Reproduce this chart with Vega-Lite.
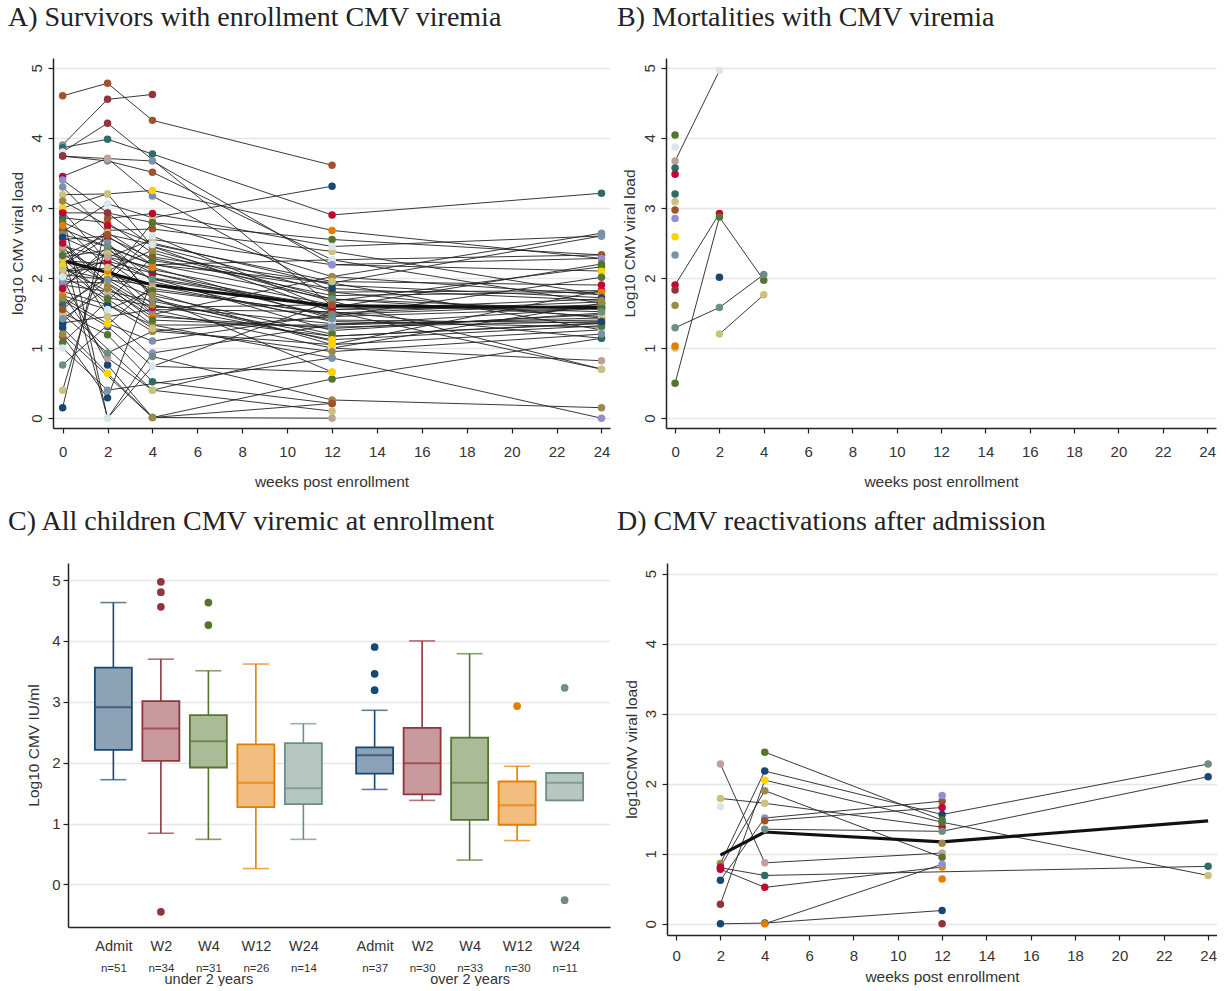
{
"$schema": "https://vega.github.io/schema/vega-lite/v6.json",
"padding": {"left": 0, "top": 4, "right": 0, "bottom": 0},
"background": "white",
"config": {
 "view": {"stroke": null},
 "font": "Liberation Sans",
 "title": {"font": "Liberation Serif", "fontSize": 28, "fontWeight": "normal", "color": "#222222", "anchor": "start", "frame": "group"},
 "axis": {"labelFont": "Liberation Sans", "titleFont": "Liberation Sans", "labelFontSize": 15, "titleFontSize": 15.5, "titleFontWeight": "normal", "labelColor": "#333333", "titleColor": "#333333", "domainColor": "#222222", "domainWidth": 1.5, "tickColor": "#222222", "tickWidth": 1.2, "tickSize": 5, "gridColor": "#e6e6e6", "gridWidth": 1.5},
 "axisX": {"grid": false},
 "axisY": {"grid": true}
},
"datasets": {
 "lines": [
  {"p":"A","id":"a1","w":0,"v":4.60,"g":9},{"p":"A","id":"a1","w":2,"v":4.78,"g":9},{"p":"A","id":"a1","w":4,"v":4.25,"g":9},{"p":"A","id":"a1","w":12,"v":3.61,"g":9},
  {"p":"A","id":"a2","w":0,"v":3.90,"g":10},{"p":"A","id":"a2","w":2,"v":4.55,"g":2},{"p":"A","id":"a2","w":4,"v":4.62,"g":2},
  {"p":"A","id":"a3","w":0,"v":3.86,"g":11},{"p":"A","id":"a3","w":2,"v":3.98,"g":11},{"p":"A","id":"a3","w":4,"v":3.77,"g":11},{"p":"A","id":"a3","w":12,"v":2.90,"g":6},{"p":"A","id":"a3","w":24,"v":3.21,"g":11},
  {"p":"A","id":"a4","w":0,"v":3.80,"g":15},{"p":"A","id":"a4","w":2,"v":4.21,"g":2},{"p":"A","id":"a4","w":12,"v":1.60,"g":4},{"p":"A","id":"a4","w":24,"v":1.58,"g":4},
  {"p":"A","id":"a5","w":0,"v":3.74,"g":2},{"p":"A","id":"a5","w":2,"v":3.67,"g":10},{"p":"A","id":"a5","w":4,"v":3.51,"g":9},{"p":"A","id":"a5","w":12,"v":2.26,"g":15},{"p":"A","id":"a5","w":24,"v":1.64,"g":1},
  {"p":"A","id":"a6","w":0,"v":3.45,"g":6},{"p":"A","id":"a6","w":2,"v":3.71,"g":13},{"p":"A","id":"a6","w":4,"v":3.17,"g":10},{"p":"A","id":"a6","w":12,"v":1.80,"g":9},{"p":"A","id":"a6","w":24,"v":1.43,"g":2},
  {"p":"A","id":"a7","w":0,"v":3.40,"g":7},{"p":"A","id":"a7","w":2,"v":2.93,"g":2},{"p":"A","id":"a7","w":4,"v":2.45,"g":5},{"p":"A","id":"a7","w":12,"v":1.52,"g":3},{"p":"A","id":"a7","w":24,"v":0.70,"g":8},
  {"p":"A","id":"a8","w":0,"v":3.19,"g":8},{"p":"A","id":"a8","w":2,"v":3.20,"g":8},{"p":"A","id":"a8","w":4,"v":3.25,"g":14},{"p":"A","id":"a8","w":12,"v":2.68,"g":4},{"p":"A","id":"a8","w":24,"v":2.28,"g":7},
  {"p":"A","id":"a9","w":0,"v":2.95,"g":6},{"p":"A","id":"a9","w":2,"v":2.24,"g":6},{"p":"A","id":"a9","w":4,"v":1.79,"g":8},{"p":"A","id":"a9","w":12,"v":1.05,"g":14},{"p":"A","id":"a9","w":24,"v":1.82,"g":6},
  {"p":"A","id":"a10","w":0,"v":2.93,"g":6},{"p":"A","id":"a10","w":2,"v":0.00,"g":15},{"p":"A","id":"a10","w":4,"v":0.93,"g":7},{"p":"A","id":"a10","w":12,"v":1.33,"g":7},{"p":"A","id":"a10","w":24,"v":1.57,"g":4},
  {"p":"A","id":"a11","w":0,"v":2.86,"g":11},{"p":"A","id":"a11","w":2,"v":2.79,"g":4},{"p":"A","id":"a11","w":4,"v":2.36,"g":4},{"p":"A","id":"a11","w":12,"v":1.67,"g":4},{"p":"A","id":"a11","w":24,"v":2.16,"g":3},
  {"p":"A","id":"a12","w":0,"v":2.66,"g":10},{"p":"A","id":"a12","w":2,"v":3.06,"g":15},{"p":"A","id":"a12","w":4,"v":2.86,"g":8},{"p":"A","id":"a12","w":12,"v":3.31,"g":1},
  {"p":"A","id":"a13","w":0,"v":2.55,"g":9},{"p":"A","id":"a13","w":2,"v":2.60,"g":15},{"p":"A","id":"a13","w":4,"v":2.19,"g":2},{"p":"A","id":"a13","w":12,"v":1.93,"g":12},{"p":"A","id":"a13","w":24,"v":2.60,"g":10},
  {"p":"A","id":"a14","w":0,"v":2.52,"g":8},{"p":"A","id":"a14","w":2,"v":1.93,"g":8},{"p":"A","id":"a14","w":4,"v":1.55,"g":10},{"p":"A","id":"a14","w":12,"v":1.00,"g":15},{"p":"A","id":"a14","w":24,"v":0.82,"g":13},
  {"p":"A","id":"a15","w":0,"v":2.48,"g":15},{"p":"A","id":"a15","w":2,"v":1.45,"g":8},{"p":"A","id":"a15","w":4,"v":0.88,"g":5},{"p":"A","id":"a15","w":12,"v":0.26,"g":12},{"p":"A","id":"a15","w":24,"v":0.15,"g":12},
  {"p":"A","id":"a16","w":0,"v":2.30,"g":4},{"p":"A","id":"a16","w":2,"v":2.40,"g":12},{"p":"A","id":"a16","w":4,"v":2.07,"g":6},{"p":"A","id":"a16","w":12,"v":1.55,"g":3},{"p":"A","id":"a16","w":24,"v":1.60,"g":1},
  {"p":"A","id":"a17","w":0,"v":2.19,"g":1},{"p":"A","id":"a17","w":2,"v":2.68,"g":3},{"p":"A","id":"a17","w":4,"v":2.70,"g":9},{"p":"A","id":"a17","w":12,"v":2.38,"g":8},{"p":"A","id":"a17","w":24,"v":1.76,"g":8},
  {"p":"A","id":"a18","w":0,"v":2.14,"g":12},{"p":"A","id":"a18","w":2,"v":1.81,"g":8},{"p":"A","id":"a18","w":4,"v":1.67,"g":1},{"p":"A","id":"a18","w":12,"v":1.17,"g":13},{"p":"A","id":"a18","w":24,"v":1.36,"g":1},
  {"p":"A","id":"a19","w":0,"v":2.10,"g":12},{"p":"A","id":"a19","w":2,"v":2.14,"g":12},{"p":"A","id":"a19","w":4,"v":1.48,"g":10},{"p":"A","id":"a19","w":12,"v":2.02,"g":12},{"p":"A","id":"a19","w":24,"v":2.64,"g":10},
  {"p":"A","id":"a20","w":0,"v":2.00,"g":12},{"p":"A","id":"a20","w":2,"v":0.76,"g":1},{"p":"A","id":"a20","w":4,"v":0.01,"g":12},{"p":"A","id":"a20","w":12,"v":0.56,"g":3},{"p":"A","id":"a20","w":24,"v":1.14,"g":11},
  {"p":"A","id":"a21","w":0,"v":1.88,"g":9},{"p":"A","id":"a21","w":2,"v":2.29,"g":14},{"p":"A","id":"a21","w":4,"v":2.55,"g":8},{"p":"A","id":"a21","w":12,"v":2.19,"g":7},{"p":"A","id":"a21","w":24,"v":2.10,"g":14},
  {"p":"A","id":"a22","w":0,"v":1.81,"g":13},{"p":"A","id":"a22","w":2,"v":1.62,"g":1},{"p":"A","id":"a22","w":4,"v":1.33,"g":12},{"p":"A","id":"a22","w":12,"v":0.86,"g":10},{"p":"A","id":"a22","w":24,"v":0.00,"g":7},
  {"p":"A","id":"a23","w":0,"v":1.77,"g":15},{"p":"A","id":"a23","w":2,"v":0.86,"g":13},{"p":"A","id":"a23","w":4,"v":0.40,"g":8},{"p":"A","id":"a23","w":12,"v":0.10,"g":8},
  {"p":"A","id":"a24","w":0,"v":1.68,"g":5},{"p":"A","id":"a24","w":2,"v":1.31,"g":1},{"p":"A","id":"a24","w":4,"v":0.74,"g":15},{"p":"A","id":"a24","w":12,"v":0.66,"g":14},
  {"p":"A","id":"a25","w":0,"v":1.50,"g":12},{"p":"A","id":"a25","w":2,"v":1.19,"g":3},{"p":"A","id":"a25","w":4,"v":0.52,"g":11},{"p":"A","id":"a25","w":12,"v":0.21,"g":9},
  {"p":"A","id":"a26","w":0,"v":1.48,"g":8},{"p":"A","id":"a26","w":2,"v":0.93,"g":5},{"p":"A","id":"a26","w":4,"v":1.24,"g":12},{"p":"A","id":"a26","w":12,"v":1.45,"g":3},{"p":"A","id":"a26","w":24,"v":2.01,"g":3},
  {"p":"A","id":"a27","w":0,"v":1.36,"g":1},{"p":"A","id":"a27","w":2,"v":2.00,"g":12},{"p":"A","id":"a27","w":4,"v":2.79,"g":3},{"p":"A","id":"a27","w":12,"v":2.55,"g":3},{"p":"A","id":"a27","w":24,"v":2.33,"g":9},
  {"p":"A","id":"a28","w":0,"v":1.29,"g":1},{"p":"A","id":"a28","w":2,"v":0.64,"g":14},{"p":"A","id":"a28","w":4,"v":0.01,"g":12},{"p":"A","id":"a28","w":12,"v":0.00,"g":13},
  {"p":"A","id":"a29","w":0,"v":1.17,"g":9},{"p":"A","id":"a29","w":2,"v":0.29,"g":1},{"p":"A","id":"a29","w":4,"v":2.00,"g":12},{"p":"A","id":"a29","w":12,"v":1.25,"g":10},{"p":"A","id":"a29","w":24,"v":1.50,"g":15},
  {"p":"A","id":"a30","w":0,"v":1.08,"g":3},{"p":"A","id":"a30","w":2,"v":1.67,"g":8},{"p":"A","id":"a30","w":4,"v":2.30,"g":3},{"p":"A","id":"a30","w":12,"v":1.93,"g":12},{"p":"A","id":"a30","w":24,"v":1.26,"g":15},
  {"p":"A","id":"a31","w":0,"v":1.00,"g":15},{"p":"A","id":"a31","w":2,"v":0.40,"g":10},{"p":"A","id":"a31","w":12,"v":0.86,"g":10},
  {"p":"A","id":"a32","w":0,"v":0.76,"g":5},{"p":"A","id":"a32","w":2,"v":1.33,"g":7},{"p":"A","id":"a32","w":4,"v":1.90,"g":4},{"p":"A","id":"a32","w":12,"v":1.40,"g":3},{"p":"A","id":"a32","w":24,"v":1.36,"g":1},
  {"p":"A","id":"a33","w":0,"v":0.40,"g":8},{"p":"A","id":"a33","w":2,"v":2.52,"g":8},{"p":"A","id":"a33","w":4,"v":1.70,"g":10},{"p":"A","id":"a33","w":12,"v":1.10,"g":13},
  {"p":"A","id":"a34","w":0,"v":0.15,"g":1},{"p":"A","id":"a34","w":2,"v":2.85,"g":9},{"p":"A","id":"a34","w":4,"v":2.92,"g":6},{"p":"A","id":"a34","w":12,"v":2.45,"g":15},{"p":"A","id":"a34","w":24,"v":2.60,"g":10},
  {"p":"A","id":"a35","w":0,"v":2.25,"g":4},{"p":"A","id":"a35","w":2,"v":2.20,"g":2},{"p":"A","id":"a35","w":4,"v":2.00,"g":12},{"p":"A","id":"a35","w":12,"v":1.60,"g":4},{"p":"A","id":"a35","w":24,"v":1.58,"g":4},
  {"p":"A","id":"a36","w":0,"v":2.05,"g":12},{"p":"A","id":"a36","w":4,"v":1.90,"g":12},{"p":"A","id":"a36","w":12,"v":1.60,"g":14},{"p":"A","id":"a36","w":24,"v":1.57,"g":4},
  {"p":"A","id":"a37","w":0,"v":1.95,"g":3},{"p":"A","id":"a37","w":2,"v":1.93,"g":8},{"p":"A","id":"a37","w":4,"v":2.60,"g":15},{"p":"A","id":"a37","w":12,"v":1.55,"g":11},{"p":"A","id":"a37","w":24,"v":1.70,"g":8},
  {"p":"A","id":"a38","w":0,"v":2.35,"g":10},{"p":"A","id":"a38","w":4,"v":1.48,"g":10},{"p":"A","id":"a38","w":12,"v":1.17,"g":13},{"p":"A","id":"a38","w":24,"v":1.35,"g":1},
  {"p":"A","id":"a39","w":0,"v":1.58,"g":15},{"p":"A","id":"a39","w":4,"v":0.40,"g":8},{"p":"A","id":"a39","w":12,"v":1.00,"g":15},{"p":"A","id":"a39","w":24,"v":1.64,"g":1},
  {"p":"A","id":"a40","w":0,"v":1.62,"g":11},{"p":"A","id":"a40","w":2,"v":2.00,"g":12},{"p":"A","id":"a40","w":12,"v":0.66,"g":14},
  {"p":"A","id":"a41","w":0,"v":2.70,"g":9},{"p":"A","id":"a41","w":4,"v":2.19,"g":2},{"p":"A","id":"a41","w":12,"v":2.26,"g":15},{"p":"A","id":"a41","w":24,"v":2.33,"g":9},
  {"p":"A","id":"a42","w":0,"v":3.00,"g":14},{"p":"A","id":"a42","w":2,"v":3.20,"g":8},{"p":"A","id":"a42","w":4,"v":2.45,"g":5},{"p":"A","id":"a42","w":12,"v":1.80,"g":9},{"p":"A","id":"a42","w":24,"v":1.82,"g":6},
  {"p":"A","id":"a43","w":0,"v":2.40,"g":15},{"p":"A","id":"a43","w":2,"v":0.00,"g":15},{"p":"A","id":"a43","w":4,"v":0.74,"g":15},{"p":"A","id":"a43","w":12,"v":1.67,"g":4},{"p":"A","id":"a43","w":24,"v":0.70,"g":8},
  {"p":"A","id":"a44","w":0,"v":1.20,"g":12},{"p":"A","id":"a44","w":4,"v":0.01,"g":12},{"p":"A","id":"a44","w":12,"v":0.21,"g":9},
  {"p":"A","id":"a45","w":0,"v":1.90,"g":10},{"p":"A","id":"a45","w":2,"v":1.81,"g":8},{"p":"A","id":"a45","w":4,"v":1.33,"g":12},{"p":"A","id":"a45","w":12,"v":1.33,"g":7},{"p":"A","id":"a45","w":24,"v":1.43,"g":2},
  {"p":"A","id":"a46","w":0,"v":2.20,"g":4},{"p":"A","id":"a46","w":2,"v":1.62,"g":1},{"p":"A","id":"a46","w":4,"v":1.24,"g":12},{"p":"A","id":"a46","w":12,"v":1.05,"g":14},{"p":"A","id":"a46","w":24,"v":1.26,"g":15},
  {"p":"A","id":"a47","w":0,"v":3.74,"g":2},{"p":"A","id":"a47","w":4,"v":3.67,"g":10},{"p":"A","id":"a47","w":12,"v":2.19,"g":7},{"p":"A","id":"a47","w":24,"v":2.28,"g":7},
  {"p":"A","id":"a48","w":0,"v":2.93,"g":6},{"p":"A","id":"a48","w":2,"v":2.93,"g":2},{"p":"A","id":"a48","w":4,"v":2.79,"g":3},{"p":"A","id":"a48","w":12,"v":2.02,"g":12},{"p":"A","id":"a48","w":24,"v":1.76,"g":8},
  {"p":"A","id":"a49","w":0,"v":1.36,"g":1},{"p":"A","id":"a49","w":2,"v":1.45,"g":8},{"p":"A","id":"a49","w":4,"v":1.55,"g":10},{"p":"A","id":"a49","w":12,"v":1.52,"g":3},{"p":"A","id":"a49","w":24,"v":1.14,"g":11},
  {"p":"A","id":"a50","w":0,"v":2.10,"g":12},{"p":"A","id":"a50","w":2,"v":2.24,"g":6},{"p":"A","id":"a50","w":4,"v":2.07,"g":6},{"p":"A","id":"a50","w":12,"v":1.45,"g":3},{"p":"A","id":"a50","w":24,"v":1.57,"g":4},
  {"p":"A","id":"a51","w":0,"v":2.62,"g":5},{"p":"A","id":"a51","w":2,"v":2.45,"g":3},{"p":"A","id":"a51","w":4,"v":2.20,"g":10},{"p":"A","id":"a51","w":12,"v":1.70,"g":12},{"p":"A","id":"a51","w":24,"v":1.55,"g":1},
  {"p":"A","id":"a52","w":0,"v":2.42,"g":12},{"p":"A","id":"a52","w":2,"v":2.05,"g":14},{"p":"A","id":"a52","w":4,"v":1.85,"g":8},{"p":"A","id":"a52","w":12,"v":1.48,"g":4},{"p":"A","id":"a52","w":24,"v":1.62,"g":10},
  {"p":"A","id":"a53","w":0,"v":2.28,"g":8},{"p":"A","id":"a53","w":2,"v":1.72,"g":10},{"p":"A","id":"a53","w":4,"v":1.60,"g":12},{"p":"A","id":"a53","w":12,"v":1.35,"g":7},{"p":"A","id":"a53","w":24,"v":1.40,"g":6},
  {"p":"A","id":"a54","w":0,"v":2.18,"g":14},{"p":"A","id":"a54","w":2,"v":2.58,"g":2},{"p":"A","id":"a54","w":4,"v":2.28,"g":9},{"p":"A","id":"a54","w":12,"v":1.75,"g":3},{"p":"A","id":"a54","w":24,"v":1.80,"g":4},
  {"p":"A","id":"a55","w":0,"v":1.98,"g":7},{"p":"A","id":"a55","w":2,"v":2.35,"g":8},{"p":"A","id":"a55","w":4,"v":2.12,"g":1},{"p":"A","id":"a55","w":12,"v":1.62,"g":12},{"p":"A","id":"a55","w":24,"v":1.58,"g":3},
  {"p":"A","id":"a56","w":0,"v":1.75,"g":4},{"p":"A","id":"a56","w":2,"v":1.55,"g":15},{"p":"A","id":"a56","w":4,"v":1.82,"g":3},{"p":"A","id":"a56","w":12,"v":1.50,"g":9},{"p":"A","id":"a56","w":24,"v":1.66,"g":12},
  {"p":"A","id":"a57","w":0,"v":2.80,"g":3},{"p":"A","id":"a57","w":2,"v":2.50,"g":10},{"p":"A","id":"a57","w":4,"v":1.95,"g":13},{"p":"A","id":"a57","w":12,"v":1.38,"g":15},{"p":"A","id":"a57","w":24,"v":1.30,"g":5},
  {"p":"A","id":"a58","w":0,"v":3.10,"g":12},{"p":"A","id":"a58","w":2,"v":2.75,"g":6},{"p":"A","id":"a58","w":4,"v":2.50,"g":8},{"p":"A","id":"a58","w":12,"v":1.90,"g":11},{"p":"A","id":"a58","w":24,"v":1.72,"g":1},
  {"p":"A","id":"a59","w":0,"v":1.42,"g":10},{"p":"A","id":"a59","w":2,"v":1.85,"g":12},{"p":"A","id":"a59","w":4,"v":1.45,"g":4},{"p":"A","id":"a59","w":12,"v":1.28,"g":8},{"p":"A","id":"a59","w":24,"v":1.48,"g":9},
  {"p":"A","id":"a60","w":0,"v":2.58,"g":1},{"p":"A","id":"a60","w":2,"v":2.30,"g":13},{"p":"A","id":"a60","w":4,"v":1.98,"g":5},{"p":"A","id":"a60","w":12,"v":1.58,"g":6},{"p":"A","id":"a60","w":24,"v":2.20,"g":3},
  {"p":"A","id":"a61","w":0,"v":2.02,"g":15},{"p":"A","id":"a61","w":2,"v":1.70,"g":3},{"p":"A","id":"a61","w":4,"v":1.28,"g":8},{"p":"A","id":"a61","w":12,"v":0.95,"g":12},{"p":"A","id":"a61","w":24,"v":1.20,"g":10},
  {"p":"A","id":"a62","w":0,"v":1.55,"g":9},{"p":"A","id":"a62","w":2,"v":2.10,"g":4},{"p":"A","id":"a62","w":4,"v":2.40,"g":12},{"p":"A","id":"a62","w":12,"v":1.70,"g":5},{"p":"A","id":"a62","w":24,"v":1.45,"g":8},
  {"p":"A","id":"a63","w":0,"v":2.45,"g":13},{"p":"A","id":"a63","w":4,"v":2.15,"g":4},{"p":"A","id":"a63","w":12,"v":1.42,"g":10},
  {"p":"A","id":"a64","w":0,"v":3.30,"g":10},{"p":"A","id":"a64","w":2,"v":2.65,"g":8},{"p":"A","id":"a64","w":4,"v":2.25,"g":3},{"p":"A","id":"a64","w":12,"v":1.85,"g":1},{"p":"A","id":"a64","w":24,"v":1.68,"g":12},
  {"p":"A","id":"a65","w":0,"v":1.85,"g":6},{"p":"A","id":"a65","w":2,"v":2.45,"g":5},{"p":"A","id":"a65","w":4,"v":1.75,"g":12},{"p":"A","id":"a65","w":12,"v":1.20,"g":3},
  {"p":"A","id":"a66","w":0,"v":2.12,"g":8},{"p":"A","id":"a66","w":2,"v":1.98,"g":10},{"p":"A","id":"a66","w":4,"v":1.58,"g":6},{"p":"A","id":"a66","w":12,"v":1.62,"g":9},{"p":"A","id":"a66","w":24,"v":1.52,"g":5},
  {"p":"A","id":"a67","w":0,"v":2.75,"g":4},{"p":"A","id":"a67","w":2,"v":2.15,"g":8},{"p":"A","id":"a67","w":4,"v":1.62,"g":12},{"p":"A","id":"a67","w":12,"v":1.12,"g":14},{"p":"A","id":"a67","w":24,"v":1.32,"g":3},
  {"p":"A","id":"a68","w":0,"v":1.72,"g":12},{"p":"A","id":"a68","w":2,"v":1.35,"g":14},{"p":"A","id":"a68","w":4,"v":1.10,"g":10},{"p":"A","id":"a68","w":12,"v":1.48,"g":5},
  {"p":"A","id":"a69","w":0,"v":2.32,"g":3},{"p":"A","id":"a69","w":2,"v":2.62,"g":9},{"p":"A","id":"a69","w":4,"v":2.48,"g":15},{"p":"A","id":"a69","w":12,"v":1.95,"g":8},{"p":"A","id":"a69","w":24,"v":1.90,"g":6},
  {"p":"A","id":"a70","w":0,"v":2.50,"g":6},{"p":"A","id":"a70","w":2,"v":1.88,"g":12},{"p":"A","id":"a70","w":4,"v":1.40,"g":3},{"p":"A","id":"a70","w":12,"v":1.30,"g":10},{"p":"A","id":"a70","w":24,"v":1.38,"g":1},
  {"p":"A","id":"m","w":0,"v":2.25},{"p":"A","id":"m","w":2,"v":2.08},{"p":"A","id":"m","w":4,"v":1.90},{"p":"A","id":"m","w":12,"v":1.60},{"p":"A","id":"m","w":24,"v":1.58},
  {"p":"B","id":"b1","w":0,"v":3.67,"g":13},{"p":"B","id":"b1","w":2,"v":4.96,"g":15},
  {"p":"B","id":"b2","w":0,"v":1.90,"g":6},{"p":"B","id":"b2","w":2,"v":2.92,"g":6},
  {"p":"B","id":"b3","w":0,"v":0.50,"g":3},{"p":"B","id":"b3","w":2,"v":2.87,"g":3},{"p":"B","id":"b3","w":4,"v":1.97,"g":3},
  {"p":"B","id":"b4","w":0,"v":1.29,"g":5},{"p":"B","id":"b4","w":2,"v":1.58,"g":5},{"p":"B","id":"b4","w":4,"v":2.05,"g":5},
  {"p":"B","id":"b5","w":2,"v":1.20,"g":8},{"p":"B","id":"b5","w":4,"v":1.76,"g":8},
  {"p":"B","id":"b6","w":0,"v":4.04,"g":3},{"p":"B","id":"b7","w":0,"v":3.87,"g":15},{"p":"B","id":"b8","w":0,"v":3.57,"g":11},{"p":"B","id":"b9","w":0,"v":3.48,"g":6},
  {"p":"B","id":"b10","w":0,"v":3.20,"g":11},{"p":"B","id":"b11","w":0,"v":3.09,"g":8},{"p":"B","id":"b12","w":0,"v":2.97,"g":9},{"p":"B","id":"b13","w":0,"v":2.85,"g":7},
  {"p":"B","id":"b14","w":0,"v":2.59,"g":14},{"p":"B","id":"b15","w":0,"v":2.33,"g":10},{"p":"B","id":"b16","w":0,"v":1.83,"g":2},{"p":"B","id":"b17","w":0,"v":1.61,"g":12},
  {"p":"B","id":"b18","w":0,"v":1.00,"g":8},{"p":"B","id":"b19","w":0,"v":1.03,"g":4},{"p":"B","id":"b20","w":2,"v":2.01,"g":1},
  {"p":"D","id":"d1","w":2,"v":2.28,"g":13},{"p":"D","id":"d1","w":4,"v":0.87,"g":13},{"p":"D","id":"d1","w":12,"v":1.01,"g":13},
  {"p":"D","id":"d2","w":2,"v":1.79,"g":8},{"p":"D","id":"d2","w":4,"v":1.72,"g":8},{"p":"D","id":"d2","w":12,"v":1.38,"g":6},
  {"p":"D","id":"d3","w":2,"v":1.67,"g":15},
  {"p":"D","id":"d4","w":2,"v":0.86,"g":12},{"p":"D","id":"d4","w":4,"v":2.18,"g":1},{"p":"D","id":"d4","w":12,"v":1.56,"g":1},{"p":"D","id":"d4","w":24,"v":2.28,"g":5},
  {"p":"D","id":"d5","w":2,"v":0.81,"g":2},{"p":"D","id":"d5","w":4,"v":1.90,"g":12},{"p":"D","id":"d5","w":12,"v":0.95,"g":3},
  {"p":"D","id":"d6","w":2,"v":0.78,"g":6},{"p":"D","id":"d6","w":4,"v":0.52,"g":6},{"p":"D","id":"d6","w":12,"v":0.81,"g":4},
  {"p":"D","id":"d7","w":2,"v":0.80,"g":6},{"p":"D","id":"d7","w":4,"v":0.69,"g":11},{"p":"D","id":"d7","w":24,"v":0.82,"g":11},
  {"p":"D","id":"d8","w":2,"v":0.62,"g":1},{"p":"D","id":"d8","w":4,"v":1.51,"g":7},{"p":"D","id":"d8","w":12,"v":1.75,"g":9},
  {"p":"D","id":"d9","w":2,"v":0.28,"g":2},{"p":"D","id":"d9","w":4,"v":2.05,"g":14},{"p":"D","id":"d9","w":12,"v":1.45,"g":3},{"p":"D","id":"d9","w":24,"v":0.69,"g":8},
  {"p":"D","id":"d10","w":2,"v":0.00,"g":1},{"p":"D","id":"d10","w":4,"v":0.01,"g":1},{"p":"D","id":"d10","w":12,"v":0.19,"g":1},
  {"p":"D","id":"d11","w":4,"v":2.45,"g":3},{"p":"D","id":"d11","w":12,"v":1.48,"g":3},
  {"p":"D","id":"d12","w":4,"v":1.47,"g":9},{"p":"D","id":"d12","w":12,"v":1.66,"g":6},
  {"p":"D","id":"d13","w":4,"v":1.35,"g":5},{"p":"D","id":"d13","w":12,"v":1.32,"g":5},{"p":"D","id":"d13","w":24,"v":2.10,"g":1},
  {"p":"D","id":"d14","w":4,"v":0.00,"g":4},{"p":"D","id":"d14","w":12,"v":0.85,"g":7},
  {"p":"D","id":"d15","w":12,"v":0.64,"g":4},{"p":"D","id":"d16","w":12,"v":0.00,"g":2},{"p":"D","id":"d17","w":12,"v":1.83,"g":7},{"p":"D","id":"d18","w":12,"v":1.15,"g":12},
  {"p":"D","id":"m","w":2,"v":0.98},{"p":"D","id":"m","w":4,"v":1.31},{"p":"D","id":"m","w":12,"v":1.17},{"p":"D","id":"m","w":24,"v":1.47}
 ],
 "box": [
  {"grp":"under","visit":"Admit","lo":1.72,"q1":2.21,"med":2.91,"q3":3.56,"hi":4.63},
  {"grp":"under","visit":"W2","lo":0.84,"q1":2.03,"med":2.56,"q3":3.01,"hi":3.70},
  {"grp":"under","visit":"W4","lo":0.74,"q1":1.92,"med":2.35,"q3":2.78,"hi":3.51},
  {"grp":"under","visit":"W12","lo":0.26,"q1":1.27,"med":1.67,"q3":2.30,"hi":3.62},
  {"grp":"under","visit":"W24","lo":0.74,"q1":1.32,"med":1.58,"q3":2.32,"hi":2.64},
  {"grp":"over","visit":"Admit","lo":1.56,"q1":1.82,"med":2.12,"q3":2.25,"hi":2.86},
  {"grp":"over","visit":"W2","lo":1.38,"q1":1.48,"med":1.99,"q3":2.57,"hi":4.00},
  {"grp":"over","visit":"W4","lo":0.40,"q1":1.06,"med":1.67,"q3":2.41,"hi":3.79},
  {"grp":"over","visit":"W12","lo":0.72,"q1":0.98,"med":1.30,"q3":1.69,"hi":1.94},
  {"grp":"over","visit":"W24","lo":1.38,"q1":1.38,"med":1.67,"q3":1.83,"hi":1.83},
  {"grp":"under","visit":"W2","o":4.97},{"grp":"under","visit":"W2","o":4.80},{"grp":"under","visit":"W2","o":4.56},{"grp":"under","visit":"W2","o":-0.45},
  {"grp":"under","visit":"W4","o":4.63},{"grp":"under","visit":"W4","o":4.26},
  {"grp":"over","visit":"Admit","o":3.90},{"grp":"over","visit":"Admit","o":3.46},{"grp":"over","visit":"Admit","o":3.19},
  {"grp":"over","visit":"W12","o":2.93},
  {"grp":"over","visit":"W24","o":3.23},{"grp":"over","visit":"W24","o":-0.26}
 ]
},
"spacing": 18,
"vconcat": [
 {"spacing": 7, "hconcat": [
  {"width": 1, "height": 1, "data": {"values": []}, "mark": {"type": "point"}, "encoding": {}},
  {"width": 557, "height": 370,
   "title": {"text": "A) Survivors with enrollment CMV viremia", "dx": -45, "offset": 26},
   "data": {"name": "lines"},
   "transform": [{"filter": "datum.p == 'A'"}],
   "encoding": {
    "x": {"field": "w", "type": "quantitative", "scale": {"domain": [-0.43, 24.38], "nice": false, "zero": false}, "axis": {"values": [0,2,4,6,8,10,12,14,16,18,20,22,24], "title": "weeks post enrollment", "labelPadding": 11, "titlePadding": 15}},
    "y": {"field": "v", "type": "quantitative", "scale": {"domain": [-0.14, 5.14], "nice": false, "zero": false}, "axis": {"values": [0,1,2,3,4,5], "title": "log10 CMV viral load", "labelAngle": -90, "labelPadding": 4, "titlePadding": 4}}
   },
   "layer": [
    {"transform": [{"filter": "datum.id != 'm'"}], "mark": {"type": "line", "color": "#222222", "strokeWidth": 1, "opacity": 0.9}, "encoding": {"detail": {"field": "id"}, "order": {"field": "w"}}},
    {"transform": [{"filter": "datum.id == 'm'"}], "mark": {"type": "line", "color": "#111111", "strokeWidth": 3}, "encoding": {"order": {"field": "w"}}},
    {"transform": [{"filter": "datum.id != 'm'"}], "mark": {"type": "circle", "size": 56, "opacity": 1}, "encoding": {"color": {"field": "g", "type": "nominal", "scale": {"domain": [1,2,3,4,5,6,7,8,9,10,11,12,13,14,15], "range": ["#1a476f","#90353b","#55752f","#e37e00","#6e8e84","#c10534","#938dd2","#cac27e","#a0522d","#7b92a8","#2d6d66","#9c8847","#bfa19c","#ffd200","#d9e6eb"]}, "legend": null}}}
   ]
  },
  {"width": 550, "height": 370,
   "title": {"text": "B) Mortalities with CMV viremia", "dx": -49, "offset": 26},
   "data": {"name": "lines"},
   "transform": [{"filter": "datum.p == 'B'"}],
   "encoding": {
    "x": {"field": "w", "type": "quantitative", "scale": {"domain": [-0.41, 24.4], "nice": false, "zero": false}, "axis": {"values": [0,2,4,6,8,10,12,14,16,18,20,22,24], "title": "weeks post enrollment", "labelPadding": 11, "titlePadding": 15}},
    "y": {"field": "v", "type": "quantitative", "scale": {"domain": [-0.14, 5.14], "nice": false, "zero": false}, "axis": {"values": [0,1,2,3,4,5], "title": "Log10 CMV viral load", "labelAngle": -90, "labelPadding": 4, "titlePadding": 5}}
   },
   "layer": [
    {"mark": {"type": "line", "color": "#222222", "strokeWidth": 1, "opacity": 0.9}, "encoding": {"detail": {"field": "id"}, "order": {"field": "w"}}},
    {"mark": {"type": "circle", "size": 56, "opacity": 1}, "encoding": {"color": {"field": "g", "type": "nominal", "scale": {"domain": [1,2,3,4,5,6,7,8,9,10,11,12,13,14,15], "range": ["#1a476f","#90353b","#55752f","#e37e00","#6e8e84","#c10534","#938dd2","#cac27e","#a0522d","#7b92a8","#2d6d66","#9c8847","#bfa19c","#ffd200","#d9e6eb"]}, "legend": null}}}
   ]
  }
 ]},
 {"spacing": 7, "hconcat": [
  {"width": 1, "height": 1, "data": {"values": []}, "mark": {"type": "point"}, "encoding": {}},
  {"width": 542, "height": 364,
   "title": {"text": "C) All children CMV viremic at enrollment", "dx": -60, "offset": 27},
   "data": {"name": "box"},
   "transform": [{"calculate": "indexof(['Admit','W2','W4','W12','W24'], datum.visit) + 1 + (datum.grp == 'over' ? 5.5 : 0)", "as": "xp"}],
   "resolve": {"axis": {"x": "independent"}},
   "layer": [
    {"transform": [{"filter": "isValid(datum.med)"}],
     "mark": {"type": "rule", "strokeWidth": 1.6},
     "encoding": {
      "x": {"field": "xp", "type": "quantitative", "scale": {"domain": [0.15, 11.35], "nice": false, "zero": false}, "axis": {"orient": "bottom", "values": [1,2,3,4,5,6.5,7.5,8.5,9.5,10.5], "labelExpr": "datum.value < 1.5 ? 'Admit' : datum.value < 2.5 ? 'W2' : datum.value < 3.5 ? 'W4' : datum.value < 4.5 ? 'W12' : datum.value < 5.5 ? 'W24' : datum.value < 7 ? 'Admit' : datum.value < 8 ? 'W2' : datum.value < 9 ? 'W4' : datum.value < 10 ? 'W12' : 'W24'", "title": null, "ticks": false, "labelPadding": 12, "labelFontSize": 14.5, "labelOverlap": false, "labelFlush": false, "grid": false}},
      "y": {"field": "lo", "type": "quantitative", "scale": {"domain": [-0.7, 5.28], "nice": false, "zero": false}, "axis": {"values": [0,1,2,3,4,5], "title": "Log10 CMV IU/ml", "labelPadding": 3, "titlePadding": 10}},
      "y2": {"field": "hi"},
      "color": {"field": "visit", "type": "nominal", "scale": {"domain": ["Admit","W2","W4","W12","W24"], "range": ["#1a476f","#90353b","#55752f","#e37e00","#6e8e84"]}, "legend": null}
     }},
    {"transform": [{"filter": "isValid(datum.med)"}],
     "mark": {"type": "tick", "orient": "horizontal", "size": 26, "thickness": 1.6},
     "encoding": {
      "x": {"field": "xp", "type": "quantitative", "axis": {"orient": "bottom", "values": [1,2,3,4,5,6.5,7.5,8.5,9.5,10.5], "labelExpr": "'n=' + (datum.value == 1 ? 51 : datum.value == 2 ? 34 : datum.value == 3 ? 31 : datum.value == 4 ? 26 : datum.value == 5 ? 14 : datum.value == 6.5 ? 37 : datum.value == 7.5 ? 30 : datum.value == 8.5 ? 33 : datum.value == 9.5 ? 30 : 11)", "title": null, "ticks": false, "domain": false, "labelPadding": 35, "labelFontSize": 11.5, "labelOverlap": false, "labelFlush": false, "grid": false}},
      "y": {"field": "lo", "type": "quantitative", "axis": {"values": [0,1,2,3,4,5], "title": "Log10 CMV IU/ml", "labelPadding": 3, "titlePadding": 10}},
      "color": {"field": "visit", "type": "nominal", "legend": null}
     }},
    {"transform": [{"filter": "isValid(datum.med)"}],
     "mark": {"type": "tick", "orient": "horizontal", "size": 26, "thickness": 1.6},
     "encoding": {
      "x": {"field": "xp", "type": "quantitative", "axis": {"orient": "bottom", "values": [3, 8.5], "labelExpr": "datum.value < 6 ? 'under 2 years' : 'over 2 years'", "title": null, "ticks": false, "domain": false, "labelPadding": 45, "labelFontSize": 14.5, "labelOverlap": false, "labelFlush": false, "grid": false}},
      "y": {"field": "hi", "type": "quantitative", "axis": {"values": [0,1,2,3,4,5], "title": "Log10 CMV IU/ml", "labelPadding": 3, "titlePadding": 10}},
      "color": {"field": "visit", "type": "nominal", "legend": null}
     }},
    {"transform": [{"filter": "isValid(datum.med)"}],
     "mark": {"type": "bar", "size": 37, "strokeWidth": 1.8},
     "encoding": {
      "x": {"field": "xp", "type": "quantitative", "axis": null},
      "y": {"field": "q1", "type": "quantitative", "axis": {"values": [0,1,2,3,4,5], "title": "Log10 CMV IU/ml", "labelPadding": 3, "titlePadding": 10}},
      "y2": {"field": "q3"},
      "fill": {"field": "visit", "type": "nominal", "scale": {"domain": ["Admit","W2","W4","W12","W24"], "range": ["#8ca3b7","#c89a9d","#aabb97","#f1be7f","#b6c6c1"]}, "legend": null},
      "stroke": {"field": "visit", "type": "nominal", "scale": {"domain": ["Admit","W2","W4","W12","W24"], "range": ["#1a476f","#90353b","#55752f","#e37e00","#6e8e84"]}, "legend": null}
     }},
    {"transform": [{"filter": "isValid(datum.med)"}],
     "mark": {"type": "tick", "orient": "horizontal", "size": 37, "thickness": 2},
     "encoding": {
      "x": {"field": "xp", "type": "quantitative", "axis": null},
      "y": {"field": "med", "type": "quantitative", "axis": {"values": [0,1,2,3,4,5], "title": "Log10 CMV IU/ml", "labelPadding": 3, "titlePadding": 10}},
      "color": {"field": "visit", "type": "nominal", "legend": null}
     }},
    {"transform": [{"filter": "isValid(datum.o)"}],
     "mark": {"type": "circle", "size": 60, "opacity": 1},
     "encoding": {
      "x": {"field": "xp", "type": "quantitative", "axis": null},
      "y": {"field": "o", "type": "quantitative", "axis": {"values": [0,1,2,3,4,5], "title": "Log10 CMV IU/ml", "labelPadding": 3, "titlePadding": 10}},
      "color": {"field": "visit", "type": "nominal", "legend": null}
     }}
   ]
  },
  {"width": 550, "height": 372,
   "title": {"text": "D) CMV reactivations after admission", "dx": -50, "offset": 27},
   "data": {"name": "lines"},
   "transform": [{"filter": "datum.p == 'D'"}],
   "encoding": {
    "x": {"field": "w", "type": "quantitative", "scale": {"domain": [-0.41, 24.4], "nice": false, "zero": false}, "axis": {"values": [0,2,4,6,8,10,12,14,16,18,20,22,24], "title": "weeks post enrollment", "labelPadding": 8, "titlePadding": 6}},
    "y": {"field": "v", "type": "quantitative", "scale": {"domain": [-0.16, 5.15], "nice": false, "zero": false}, "axis": {"values": [0,1,2,3,4,5], "title": "log10CMV viral load", "labelAngle": -90, "labelPadding": 4, "titlePadding": 4}}
   },
   "layer": [
    {"transform": [{"filter": "datum.id != 'm'"}], "mark": {"type": "line", "color": "#222222", "strokeWidth": 1, "opacity": 0.9}, "encoding": {"detail": {"field": "id"}, "order": {"field": "w"}}},
    {"transform": [{"filter": "datum.id == 'm'"}], "mark": {"type": "line", "color": "#111111", "strokeWidth": 3.2}, "encoding": {"order": {"field": "w"}}},
    {"transform": [{"filter": "datum.id != 'm'"}], "mark": {"type": "circle", "size": 56, "opacity": 1}, "encoding": {"color": {"field": "g", "type": "nominal", "scale": {"domain": [1,2,3,4,5,6,7,8,9,10,11,12,13,14,15], "range": ["#1a476f","#90353b","#55752f","#e37e00","#6e8e84","#c10534","#938dd2","#cac27e","#a0522d","#7b92a8","#2d6d66","#9c8847","#bfa19c","#ffd200","#d9e6eb"]}, "legend": null}}}
   ]
  }
 ]}
]
}
